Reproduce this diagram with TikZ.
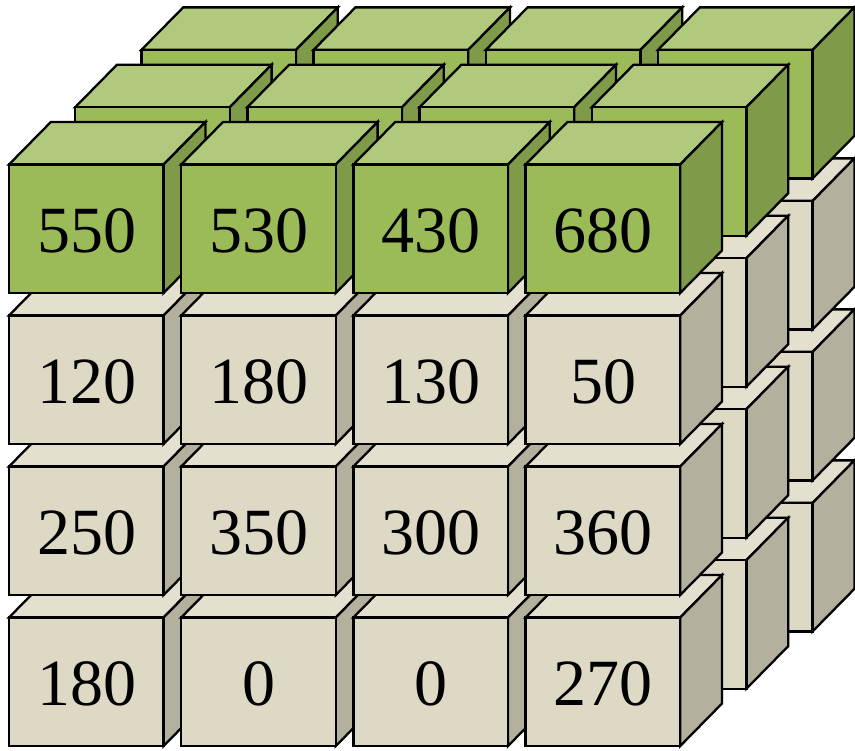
\documentclass[tikz,border=0pt]{standalone}
\usepackage{fontspec}
\setmainfont{Liberation Serif}
\definecolor{gfront}{HTML}{9BBB59}
\definecolor{gtop}{HTML}{B1C97D}
\definecolor{gside}{HTML}{7F9A48}
\definecolor{bfront}{HTML}{DDD9C4}
\definecolor{btop}{HTML}{E3E0D0}
\definecolor{bside}{HTML}{B3B09E}
\tikzset{
  edge/.style={draw=black, line width=2.3pt, line join=miter},
  lab/.style={font=\fontsize{66}{72}\selectfont, inner sep=0pt, text=black}
}
\begin{document}
\begin{tikzpicture}[x=1pt,y=-1pt]
\useasboundingbox (0,0) rectangle (855,751);
\def\W{154.6}\def\H{128.5}\def\DX{41.8}\def\DY{42.5}
\foreach \l in {2,1,0}{
  \foreach \r in {3,2,1,0}{
    \foreach \c in {0,1,2,3}{
      \pgfmathsetmacro{\X}{9+172.2*\c+66.2*\l}
      \pgfmathsetmacro{\Y}{164.5+151*\r-57.3*\l}
      \ifnum\r=0 \def\F{gfront}\def\T{gtop}\def\S{gside}\else\def\F{bfront}\def\T{btop}\def\S{bside}\fi
      \draw[edge, fill=\T] (\X,\Y) -- ++(\DX,-\DY) -- ++(\W,0) -- ++(-\DX,\DY) -- cycle;
      \draw[edge, fill=\S] (\X+\W,\Y) -- ++(\DX,-\DY) -- ++(0,\H) -- ++(-\DX,\DY) -- cycle;
      \draw[edge, fill=\F] (\X,\Y) rectangle ++(\W,\H);
    }
  }
}
\foreach \v [count=\i from 0] in {550,530,430,680,120,180,130,50,250,350,300,360,180,0,0,270}{
  \pgfmathtruncatemacro{\rr}{floor(\i/4)}
  \pgfmathtruncatemacro{\cc}{mod(\i,4)}
  \pgfmathsetmacro{\X}{9+172.2*\cc+154.6/2+0.5}
  \pgfmathsetmacro{\Y}{164.5+151*\rr+66.5}
  \node[lab] (n\i) at (\X,\Y) {\v};
}
\end{tikzpicture}
\end{document}
